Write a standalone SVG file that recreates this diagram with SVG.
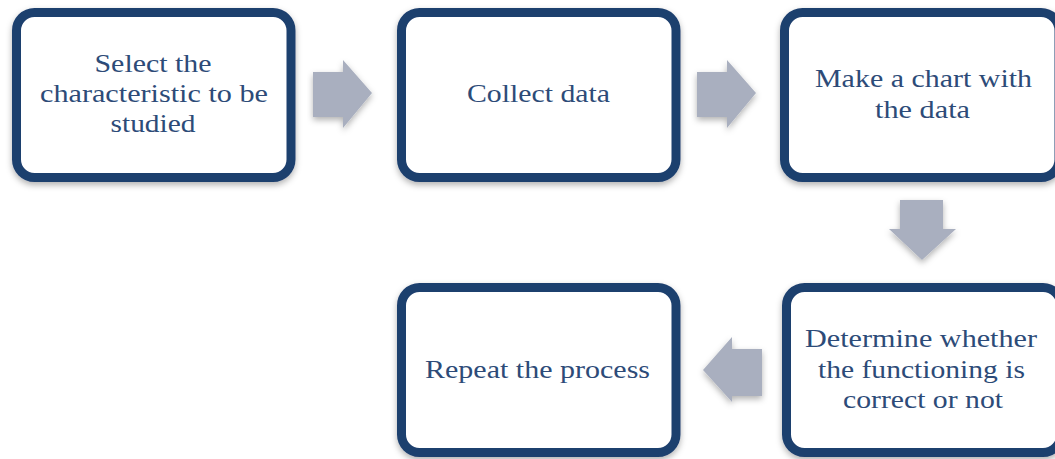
<svg xmlns="http://www.w3.org/2000/svg" width="1055" height="459" viewBox="0 0 1055 459">
<defs>
<filter id="sh" x="-10%" y="-10%" width="120%" height="130%">
<feDropShadow dx="0" dy="3" stdDeviation="3" flood-color="#000" flood-opacity="0.3"/>
</filter>
<style>
.box{fill:#fff;stroke:#1f3f6e;stroke-width:9;filter:url(#sh)}
.t{font-family:"Liberation Serif",serif;font-size:26px;fill:#2d4b78;text-anchor:middle}
.ar{fill:#a9afbf;filter:url(#sh)}
</style>
</defs>
<rect width="1055" height="459" fill="#fff"/>
<g id="connectors">
<polygon class="ar" points="313,72 343,72 343,60 372,93 343,128 343,117 313,117"/>
<polygon class="ar" points="697,72 727,72 727,60 756,93 727,128 727,117 697,117"/>
<polygon class="ar" points="900,200 943,200 943,229 956,229 922,260 889,229 900,229"/>
<polygon class="ar" points="762,349 732,349 732,337 703,370 732,402 732,396 762,396"/>
</g>
<g id="node1">
<rect class="box" x="16.5" y="12.5" width="274.5" height="165" rx="18"/>
<text class="t" x="153" y="72" textLength="117" lengthAdjust="spacingAndGlyphs">Select the</text>
<text class="t" x="154" y="102" textLength="228" lengthAdjust="spacingAndGlyphs">characteristic to be</text>
<text class="t" x="153" y="132" textLength="85" lengthAdjust="spacingAndGlyphs">studied</text>
</g>
<g id="node2">
<rect class="box" x="401.5" y="12.5" width="274.5" height="165" rx="18"/>
<text class="t" x="538.5" y="102" textLength="143" lengthAdjust="spacingAndGlyphs">Collect data</text>
</g>
<g id="node3">
<rect class="box" x="784.5" y="12.5" width="274.5" height="165" rx="18"/>
<text class="t" x="923.5" y="87" textLength="217" lengthAdjust="spacingAndGlyphs">Make a chart with</text>
<text class="t" x="922.5" y="118" textLength="95" lengthAdjust="spacingAndGlyphs">the data</text>
</g>
<g id="node4">
<rect class="box" x="401.5" y="287.5" width="274.5" height="165" rx="18"/>
<text class="t" x="537.5" y="378" textLength="225" lengthAdjust="spacingAndGlyphs">Repeat the process</text>
</g>
<g id="node5">
<rect class="box" x="786.5" y="287.5" width="274.5" height="165" rx="18"/>
<text class="t" x="921" y="347" textLength="232" lengthAdjust="spacingAndGlyphs">Determine whether</text>
<text class="t" x="921.5" y="378" textLength="207" lengthAdjust="spacingAndGlyphs">the functioning is</text>
<text class="t" x="923" y="408" textLength="160" lengthAdjust="spacingAndGlyphs">correct or not</text>
</g>
</svg>
